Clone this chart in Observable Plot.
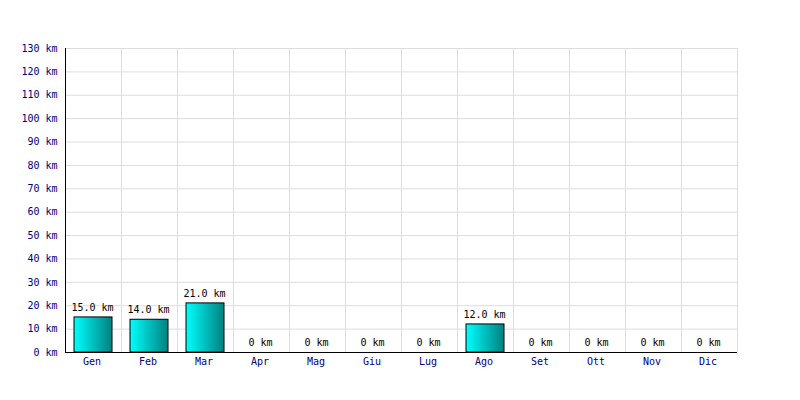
<!DOCTYPE html>
<html><head><meta charset="utf-8">
<script src="https://cdn.jsdelivr.net/npm/d3@7"></script>
<script src="https://cdn.jsdelivr.net/npm/@observablehq/plot@0.6"></script>
<style>body{margin:0;background:#fff}</style>
</head><body><div id="chart"></div>
<script>
const months = ["Gen","Feb","Mar","Apr","Mag","Giu","Lug","Ago","Set","Ott","Nov","Dic"];
const km = [15, 14, 21, 0, 0, 0, 0, 12, 0, 0, 0, 0];
const yTicks = [0,10,20,30,40,50,60,70,80,90,100,110,120,130];

const data = months.map((m, i) => ({month: m, km: km[i]}));
const W = 800, H = 400, ML = 65, MR = 63, MT = 48, MB = 48;
const step = (W - ML - MR) / months.length;
const fmt = v => v === 0 ? "0 km" : v.toFixed(1) + " km";

const plot = Plot.plot({
  width: W, height: H,
  marginLeft: ML, marginRight: MR, marginTop: MT, marginBottom: MB,
  style: {fontFamily: "DejaVu Sans Mono, monospace", fontSize: "10px", background: "#fff", color: "#000"},
  x: {domain: months, paddingInner: 0.32, paddingOuter: 0.16, label: null},
  y: {domain: [0, 130], label: null},
  marks: [
    Plot.ruleY(yTicks, {stroke: "#dddddd", strokeOpacity: 1}),
    Plot.ruleX(months, {x: d => d, dx: -step / 2, stroke: "#dddddd", strokeOpacity: 1}),
    Plot.ruleX(["Dic"], {x: d => d, dx: step / 2, stroke: "#dddddd", strokeOpacity: 1}),
    Plot.barY(data, {x: "month", y: "km", fill: "url(#barGrad)", stroke: "#000", strokeWidth: 1}),
    Plot.text(data, {x: "month", y: "km", text: d => fmt(d.km), dy: -10, dx: -1, fill: "#000"}),
    Plot.axisY({ticks: yTicks, tickFormat: d => d + " km", tickSize: 0, tickPadding: 8, fill: "#000080", label: null}),
    Plot.axisX({tickSize: 0, tickPadding: 5, dx: -1.5, fill: "#000080", label: null}),
    Plot.ruleY([0], {stroke: "#000"}),
    Plot.ruleX([0], {x: () => months[0], dx: -step / 2, stroke: "#000"})
  ]
});

const ns = "http://www.w3.org/2000/svg";
const defs = document.createElementNS(ns, "defs");
const grad = document.createElementNS(ns, "linearGradient");
grad.setAttribute("id", "barGrad");
grad.setAttribute("x1", "0"); grad.setAttribute("x2", "1");
grad.setAttribute("y1", "0"); grad.setAttribute("y2", "0");
[["0%", "#00ffff"], ["100%", "#008080"]].forEach(([o, c]) => {
  const s = document.createElementNS(ns, "stop");
  s.setAttribute("offset", o); s.setAttribute("stop-color", c);
  grad.appendChild(s);
});
defs.appendChild(grad);
plot.insertBefore(defs, plot.firstChild);
document.getElementById("chart").appendChild(plot);
</script>
</body></html>
